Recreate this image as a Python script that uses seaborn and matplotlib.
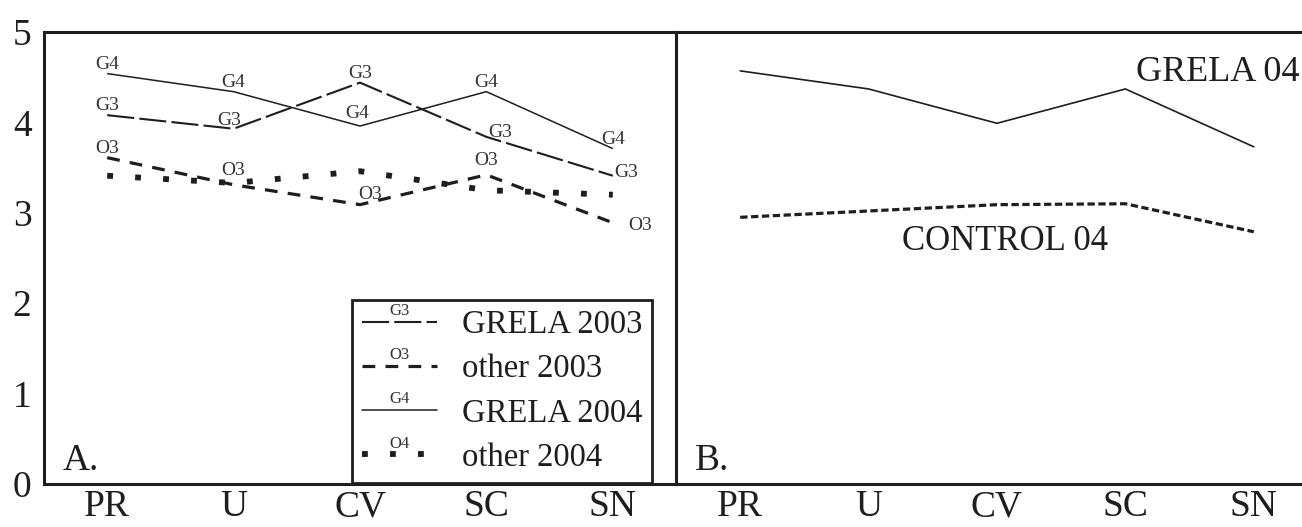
import numpy as np
import pandas as pd
import matplotlib
matplotlib.use("Agg")
import matplotlib.pyplot as plt
import seaborn as sns
from matplotlib.lines import Line2D
from matplotlib.text import Text
from matplotlib.legend_handler import HandlerLine2D
from matplotlib.ticker import FixedLocator

# ---------------- data ----------------
categories = ["PR", "U", "CV", "SC", "SN"]
grela_2003 = [4.08, 3.93, 4.44, 3.84, 3.41]
other_2003 = [3.61, 3.31, 3.09, 3.42, 2.89]
grela_2004 = [4.54, 4.34, 3.96, 4.34, 3.71]
other_2004 = [3.41, 3.33, 3.46, 3.25, 3.20]
grela_04_b = [4.57, 4.37, 3.99, 4.37, 3.73]
control_04_b = [2.95, 3.02, 3.09, 3.10, 2.79]
y_ticks = [0, 1, 2, 3, 4, 5]
legend_labels = ["GRELA 2003", "other 2003", "GRELA 2004", "other 2004"]
legend_tags = ["G3", "O3", "G4", "O4"]
point_tags = {"GRELA 2003": "G3", "other 2003": "O3", "GRELA 2004": "G4"}

# ---------------- style ----------------
sns.set_style("white")
SERIF = ["Liberation Serif", "DejaVu Serif"]
plt.rcParams["font.family"] = SERIF
INK = "#1e1e1e"

styles = {
    "GRELA 2003": dict(lw=1.5, ls=(0, (13, 2.5))),
    "other 2003": dict(lw=2.3, ls=(0, (4.0, 3.2))),
    "GRELA 2004": dict(lw=1.1, ls="-"),
    "other 2004": dict(lw=4.2, ls=(0, (1, 3.8))),
}

idx = list(range(len(categories)))
rows = []
for name, vals in zip(legend_labels, [grela_2003, other_2003, grela_2004, other_2004]):
    for i, c, v in zip(idx, categories, vals):
        rows.append(dict(series=name, pos=i, site=c, value=v))
df_a = pd.DataFrame(rows)

rows_b = []
for name, vals in zip(["GRELA 04", "CONTROL 04"], [grela_04_b, control_04_b]):
    for i, c, v in zip(idx, categories, vals):
        rows_b.append(dict(series=name, pos=i, site=c, value=v))
df_b = pd.DataFrame(rows_b)

fig = plt.figure(figsize=(13.02, 5.27), dpi=100)
bottom, height = 43 / 527, 452 / 527
axA = fig.add_axes([44 / 1302, bottom, 632 / 1302, height])
axB = fig.add_axes([676 / 1302, bottom, 642 / 1302, height])

# ---------------- panel A ----------------
for name in legend_labels:
    sub = df_a[df_a.series == name]
    st = styles[name]
    sns.lineplot(data=sub, x="pos", y="value", ax=axA, color=INK, lw=st["lw"],
                 linestyle=st["ls"], dash_capstyle="butt", solid_capstyle="butt",
                 errorbar=None, legend=False, sort=False)

# point tags (offsets in points)
default_off = (0, 3.5, "center", "baseline")
special_off = {
    ("GRELA 2003", "SC"): (1, 0, "left", "baseline"),
    ("GRELA 2003", "SN"): (1, -1, "left", "baseline"),
    ("other 2003", "SN"): (11, -2, "left", "center"),
    ("GRELA 2003", "U"): (-3, 3, "center", "baseline"),
    ("other 2003", "CV"): (7, 4, "center", "baseline"),
    ("GRELA 2004", "CV"): (-2, 6, "center", "baseline"),
    ("other 2003", "U"): (0, 7, "center", "baseline"),
    ("other 2003", "SC"): (0, 7, "center", "baseline"),
}
for r in df_a.itertuples():
    if r.series not in point_tags:
        continue
    dx, dy, ha, va = special_off.get((r.series, r.site), default_off)
    axA.annotate(point_tags[r.series], xy=(r.pos, r.value), xytext=(dx, dy),
                 textcoords="offset points", ha=ha, va=va, fontsize=14,
                 color="#333333")

axA.text(0.03, 0.03, "A.", transform=axA.transAxes, fontsize=27, color=INK,
         ha="left", va="baseline")


class TaggedLine(HandlerLine2D):
    def __init__(self, tag, **kw):
        super().__init__(**kw)
        self.tag = tag

    def create_artists(self, legend, orig_handle, xdescent, ydescent, width,
                       height, fontsize, trans):
        arts = super().create_artists(legend, orig_handle, xdescent, ydescent,
                                      width, height, fontsize, trans)
        t = Text(width / 2 - xdescent, height / 2 - ydescent + 2.0, self.tag,
                 fontsize=12, ha="center", va="bottom", color="#333333",
                 family=SERIF)
        t.set_transform(trans)
        return list(arts) + [t]


handles = [Line2D([], [], color=INK, lw=styles[n]["lw"], linestyle=styles[n]["ls"],
                  dash_capstyle="butt") for n in legend_labels]
leg = axA.legend(handles, legend_labels, loc="lower right",
                 bbox_to_anchor=(0.962, 0.003), borderaxespad=0.0,
                 fontsize=23.5, frameon=True, fancybox=False, framealpha=1,
                 edgecolor=INK, handlelength=2.3, handletextpad=0.75,
                 labelspacing=0.42, borderpad=0.3,
                 handler_map={h: TaggedLine(t) for h, t in zip(handles, legend_tags)})
leg.get_frame().set_linewidth(2.0)
for t in leg.get_texts():
    t.set_color(INK)

# ---------------- panel B ----------------
b_styles = {"GRELA 04": dict(lw=1.2, ls="-"),
            "CONTROL 04": dict(lw=2.3, ls=(0, (2.3, 1.1)))}
for name in ["GRELA 04", "CONTROL 04"]:
    sub = df_b[df_b.series == name]
    st = b_styles[name]
    sns.lineplot(data=sub, x="pos", y="value", ax=axB, color=INK, lw=st["lw"],
                 linestyle=st["ls"], dash_capstyle="butt", errorbar=None,
                 legend=False, sort=False)

axB.text(3.08, 4.55, "GRELA 04", fontsize=26, color=INK, ha="left", va="center")
axB.text(2.06, 2.68, "CONTROL 04", fontsize=25, color=INK, ha="center", va="center")
axB.text(0.03, 0.03, "B.", transform=axB.transAxes, fontsize=27, color=INK,
         ha="left", va="baseline")

# ---------------- axes cosmetics ----------------
for ax in (axA, axB):
    ax.set_xlim(-0.5, len(categories) - 0.5)
    ax.set_ylim(0, 5)
    ax.set_xticks(idx)
    ax.set_xticklabels(categories)
    ax.set_xlabel("")
    ax.set_ylabel("")
    ax.tick_params(axis="x", length=0, pad=4, labelsize=27, labelcolor=INK)
    ax.set_facecolor("white")
    for s in ax.spines.values():
        s.set_linewidth(2.2)
        s.set_color(INK)
        s.set_visible(True)

axA.set_yticks(y_ticks)
axA.tick_params(axis="y", length=0, pad=9, labelsize=27, labelcolor=INK)
axA.xaxis.set_minor_locator(FixedLocator([0.5, 1.5, 2.5, 3.5]))
axA.tick_params(axis="x", which="minor", length=5, width=1.2, direction="out",
                color=INK)
axB.set_yticks(y_ticks)
axB.set_yticklabels([])
axB.tick_params(axis="y", length=0)

fig.savefig("out.png", dpi=100)
